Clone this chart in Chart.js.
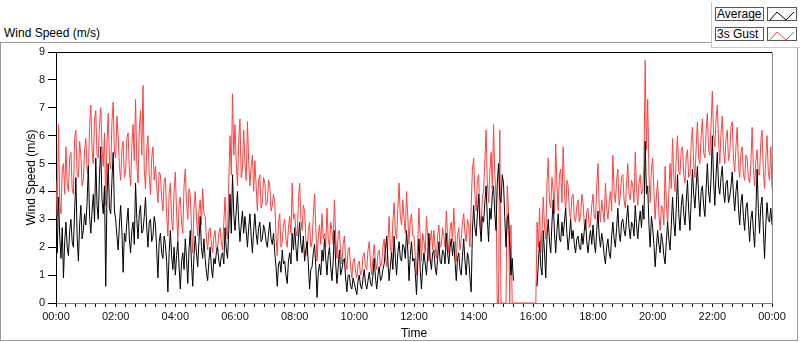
<!DOCTYPE html>
<html lang="en">
<head>
<meta charset="utf-8"/>
<title>Wind Speed (m/s)</title>
<script src="https://cdn.jsdelivr.net/npm/chart.js"></script>
<style>
  body { margin: 0; background: #fff; font-family: 'Liberation Sans', Arial, sans-serif; }
  #wrap { position: relative; width: 800px; height: 342px; overflow: hidden; }
  .frame { position: absolute; left: 0; top: 42px; width: 796px; height: 297px; border: 1px solid #9a9a9a; }
  .title { position: absolute; left: 4px; top: 26px; font-size: 12px; line-height: 14px; color: #000; }
  .legend { position: absolute; left: 711px; top: 2px; width: 88px; height: 45px; background: #fff;
            border-left: 1px solid #c8c8c8; border-bottom: 1px solid #c8c8c8; }
  .lg-name { position: absolute; left: 3px; width: 46px; height: 12px; border: 1px solid #555;
             font-size: 12px; line-height: 12px; padding-left: 1px; color: #000; white-space: nowrap; }
  .lg-icon { position: absolute; left: 55px; width: 28px; height: 12px; border: 1px solid #555; }
  canvas { position: absolute; left: 0; top: 0; }
</style>
</head>
<body>
<div id="wrap">
  <div class="frame"></div>
  <div class="title">Wind Speed (m/s)</div>
  <canvas id="wind-chart" width="800" height="342"></canvas>
  <div class="legend">
    <div class="lg-name" style="top:5px">Average</div>
    <div class="lg-icon" style="top:5px"><svg width="28" height="12"><polyline points="2,10 9,2 18,10 26,2" fill="none" stroke="#000" stroke-width="1"/></svg></div>
    <div class="lg-name" style="top:25px">3s Gust</div>
    <div class="lg-icon" style="top:25px"><svg width="28" height="12"><polyline points="2,10 9,2 18,10 26,2" fill="none" stroke="#ff4040" stroke-width="1"/></svg></div>
  </div>
</div>
<script>
  // samples every 2.5 minutes, one row per hour, 00:00 .. 24:00
  const stepMin = 2.5;
  const hourLabels = ['00:00','02:00','04:00','06:00','08:00','10:00','12:00',
                      '14:00','16:00','18:00','20:00','22:00','00:00'];

  const gust = [
    4.4, 3.1, 6.4, 3.6, 3.2, 4.8, 5.0, 3.9, 5.6, 4.3, 4.0, 5.2, 5.4, 4.1, 3.9, 5.9, 6.2, 4.6, 4.5, 5.8, 5.3, 4.2, 4.4, 5.5,
    5.9, 4.8, 4.6, 6.3, 7.1, 5.5, 5.0, 6.6, 6.9, 5.3, 5.2, 6.4, 7.0, 5.6, 4.9, 6.1, 3.5, 5.7, 6.8, 5.1, 4.8, 6.5, 7.2, 5.4,
    5.2, 6.7, 6.0, 4.9, 4.4, 5.5, 5.8, 4.5, 4.7, 5.9, 6.1, 4.8, 4.2, 5.6, 6.4, 5.1, 7.3, 5.0, 4.3, 6.2, 6.9, 5.3, 7.8, 4.8,
    4.1, 5.5, 6.0, 4.6, 3.9, 5.2, 5.6, 4.4, 4.9, 4.2, 3.6, 4.7, 4.6, 3.8, 3.3, 4.4, 4.5, 3.2, 2.4, 3.9, 4.3, 3.0, 2.6, 4.0,
    4.7, 3.3, 2.2, 3.5, 3.8, 2.9, 2.5, 4.2, 4.8, 3.6, 3.0, 4.1, 3.9, 2.7, 1.8, 3.4, 4.0, 3.1, 2.4, 3.3, 3.7, 2.8, 4.1, 3.2,
    3.1, 2.3, 1.9, 2.6, 2.7, 2.1, 1.8, 2.4, 2.6, 1.9, 2.0, 2.5, 2.7, 2.2, 1.9, 2.9, 3.8, 2.6, 2.3, 4.4, 6.0, 4.6, 7.5, 5.3,
    6.4, 5.0, 4.2, 5.8, 6.6, 4.5, 4.8, 6.2, 5.0, 4.4, 6.5, 5.1, 4.2, 4.9, 5.3, 4.0, 5.1, 4.2, 3.3, 4.4, 4.6, 3.4, 3.6, 4.5,
    4.3, 3.5, 3.6, 4.4, 4.2, 3.3, 3.5, 3.9, 3.6, 2.4, 1.7, 2.9, 3.2, 2.0, 2.2, 2.8, 3.0, 2.3, 2.0, 2.7, 3.1, 2.5, 4.3, 3.0,
    3.2, 2.6, 2.4, 3.6, 4.3, 3.0, 2.6, 3.5, 3.3, 2.3, 1.7, 2.6, 2.9, 2.0, 2.2, 3.1, 3.9, 2.7, 1.5, 2.4, 2.8, 2.1, 3.2, 2.3,
    2.5, 2.0, 3.4, 2.3, 2.0, 2.9, 2.6, 2.1, 3.7, 2.4, 1.6, 2.5, 2.6, 1.8, 1.4, 2.1, 2.4, 1.6, 1.2, 1.9, 2.0, 1.3, 0.9, 1.5,
    1.6, 1.1, 0.9, 1.4, 1.5, 1.0, 1.1, 1.7, 1.8, 1.3, 1.2, 1.9, 2.2, 1.4, 1.0, 1.6, 2.1, 1.5, 1.2, 1.8, 1.9, 1.3, 1.4, 2.0,
    2.3, 1.6, 1.3, 2.2, 3.1, 2.0, 1.7, 2.9, 3.6, 2.6, 2.3, 3.4, 4.3, 3.1, 2.8, 3.7, 3.0, 2.5, 4.0, 3.1, 2.1, 2.9, 3.2, 2.4,
    2.4, 1.7, 1.0, 2.2, 3.4, 2.3, 1.5, 2.5, 2.2, 1.8, 3.1, 2.4, 1.5, 2.2, 2.6, 1.9, 2.6, 2.0, 1.6, 2.4, 2.8, 2.0, 2.1, 2.7,
    2.4, 2.0, 3.3, 2.4, 1.8, 2.6, 2.9, 2.2, 3.4, 2.5, 1.5, 2.4, 2.7, 1.9, 2.3, 2.9, 3.2, 2.5, 2.2, 3.0, 2.8, 2.0, 3.5, 4.8,
    5.2, 3.9, 3.3, 4.4, 4.6, 3.2, 2.6, 3.8, 4.0, 5.1, 6.2, 4.3, 3.6, 4.7, 5.4, 4.1, 6.4, 4.6, 3.8, 0.0, 0.0, 6.2, 0.0, 0.0,
    0.0, 0.0, 0.0, 4.2, 3.4, 0.0, 2.8, 0.0, 0.0, 0.0, 0.0, 0.0, 0.0, 0.0, 0.0, 0.0, 0.0, 0.0, 0.0, 0.0, 0.0, 0.0, 0.0, 0.0,
    0.0, 0.0, 0.0, 2.9, 2.0, 3.4, 1.8, 2.6, 3.8, 2.7, 2.3, 4.3, 5.2, 3.6, 3.4, 4.5, 4.0, 3.2, 5.7, 4.2, 3.3, 4.6, 4.8, 3.6,
    5.6, 4.1, 3.2, 4.4, 4.2, 3.3, 3.0, 3.8, 3.9, 3.0, 2.9, 3.5, 3.7, 2.9, 3.1, 3.9, 3.6, 2.8, 2.6, 3.3, 3.4, 2.7, 2.8, 3.5,
    3.9, 3.1, 3.0, 4.2, 5.0, 3.4, 2.9, 3.7, 3.3, 2.9, 4.3, 3.4, 3.0, 3.6, 4.0, 3.3, 5.3, 4.0, 3.6, 4.4, 4.8, 3.5, 3.9, 4.5,
    4.6, 3.7, 3.4, 4.3, 5.0, 3.9, 3.7, 4.4, 4.2, 3.6, 5.4, 4.1, 3.5, 4.3, 4.6, 3.9, 4.0, 5.0, 8.7, 5.5, 7.3, 4.6, 3.6, 4.8,
    5.2, 4.0, 3.0, 3.8, 4.4, 3.2, 2.6, 3.5, 3.4, 2.8, 4.9, 3.6, 2.8, 3.9, 5.0, 4.1, 5.9, 4.5, 4.0, 5.3, 6.0, 4.7, 4.6, 5.5,
    5.6, 4.6, 4.3, 5.2, 5.5, 4.5, 4.6, 5.7, 6.3, 5.0, 4.5, 5.6, 6.5, 5.2, 5.0, 6.0, 6.6, 5.4, 5.2, 6.2, 6.8, 5.5, 5.3, 6.4,
    7.6, 6.0, 5.6, 6.6, 7.1, 5.8, 5.0, 6.1, 6.7, 5.5, 5.0, 5.9, 6.2, 5.1, 5.4, 6.3, 6.5, 5.2, 4.7, 5.6, 6.3, 5.0, 4.5, 5.4,
    5.6, 4.6, 4.4, 5.3, 5.2, 4.5, 4.3, 5.0, 6.3, 4.9, 4.2, 5.1, 5.5, 4.6, 4.6, 5.8, 6.2, 4.8, 4.1, 5.2, 6.0, 4.7, 4.4, 5.6,
    4.1
  ];

  const average = [
    2.9, 1.8, 3.8, 2.4, 1.6, 2.7, 0.9, 2.2, 2.9, 2.0, 1.7, 2.6, 3.0, 2.2, 2.0, 3.3, 4.5, 2.4, 1.5, 2.8, 3.5, 2.3, 2.6, 3.2,
    2.8, 3.6, 4.9, 3.1, 2.5, 3.3, 3.9, 2.9, 5.2, 3.5, 3.0, 4.6, 5.6, 3.7, 3.2, 4.2, 0.6, 3.8, 5.0, 3.4, 3.2, 4.4, 5.4, 3.3,
    3.0, 2.4, 1.9, 2.8, 3.5, 2.6, 1.1, 2.5, 2.2, 2.9, 3.4, 2.3, 1.8, 2.6, 2.9, 2.1, 4.3, 3.0, 2.3, 3.2, 3.5, 2.5, 2.6, 3.1,
    3.8, 2.7, 2.0, 2.9, 3.0, 2.2, 2.4, 3.1, 2.8, 1.9, 0.9, 2.2, 2.5, 1.8, 1.6, 2.4, 2.1, 1.5, 0.4, 1.8, 2.6, 1.7, 1.2, 2.0,
    1.0, 1.7, 2.2, 1.3, 0.5, 1.5, 1.8, 1.2, 2.3, 1.6, 0.7, 1.9, 2.6, 1.4, 0.6, 1.7, 2.4, 1.8, 1.3, 2.2, 3.1, 2.0, 1.6, 2.3,
    1.6, 1.1, 0.8, 1.5, 2.0, 1.3, 0.9, 1.6, 1.4, 1.8, 2.0, 1.5, 1.3, 1.7, 1.8, 1.4, 2.7, 1.9, 1.6, 2.6, 3.9, 2.5, 4.6, 3.2,
    2.6, 3.3, 4.0, 2.9, 2.2, 2.8, 3.3, 2.5, 3.1, 2.6, 2.0, 2.7, 3.2, 2.4, 1.8, 2.6, 3.2, 2.5, 2.1, 2.7, 2.9, 2.2, 2.3, 2.8,
    2.6, 2.2, 2.0, 2.5, 2.9, 2.3, 2.1, 2.5, 1.8, 1.3, 0.6, 1.4, 1.5, 1.1, 1.9, 1.4, 1.5, 1.0, 0.7, 1.5, 1.8, 1.4, 2.5, 1.9,
    2.7, 2.0, 1.5, 2.3, 2.9, 2.1, 1.8, 2.4, 1.5, 1.9, 2.2, 1.4, 0.5, 1.2, 1.3, 1.8, 2.1, 1.3, 0.2, 1.1, 1.4, 1.0, 1.9, 1.5,
    2.3, 1.6, 1.0, 1.7, 2.0, 1.3, 0.8, 1.5, 2.6, 1.4, 0.7, 1.3, 1.9, 1.0, 1.2, 1.5, 1.6, 0.9, 0.4, 1.0, 1.0, 0.6, 0.5, 0.9,
    0.7, 0.5, 0.3, 0.8, 1.0, 0.6, 0.5, 0.9, 1.2, 0.7, 0.5, 0.8, 1.1, 0.7, 0.6, 1.0, 1.6, 0.9, 0.5, 1.0, 1.3, 0.8, 0.9, 1.2,
    1.4, 1.9, 2.4, 1.5, 0.8, 1.3, 1.8, 1.2, 2.4, 1.6, 1.0, 1.8, 2.2, 1.6, 1.5, 2.1, 2.0, 1.6, 2.6, 1.9, 0.8, 1.7, 2.2, 1.5,
    1.6, 1.1, 0.3, 1.4, 2.3, 1.2, 0.5, 1.3, 1.8, 1.4, 1.0, 1.7, 2.5, 1.6, 1.2, 1.8, 1.9, 1.3, 1.0, 1.6, 2.2, 1.5, 1.4, 1.9,
    1.8, 1.4, 2.5, 1.8, 1.4, 2.0, 2.3, 1.7, 2.2, 1.5, 0.8, 1.6, 1.8, 1.2, 1.0, 1.7, 2.3, 1.5, 1.0, 1.8, 1.6, 0.9, 0.4, 2.6,
    3.5, 2.7, 2.4, 3.2, 3.9, 2.8, 2.2, 3.1, 2.9, 3.6, 4.2, 3.0, 2.2, 3.4, 3.0, 3.9, 4.2, 3.2, 2.6, 4.3, 5.0, 3.8, 3.6, 4.6,
    4.3, 3.1, 2.0, 3.0, 3.2, 2.1, 1.0, 1.6, 0.8, null, null, null, null, null, null, null, null, null, null, null, null, null, null, null,
    null, null, null, 0.6, 1.4, 2.2, 1.3, 1.0, 2.6, 1.8, 0.9, 2.4, 3.0, 2.2, 1.8, 2.9, 3.7, 2.5, 1.8, 2.6, 3.2, 2.3, 2.2, 2.9,
    2.4, 2.9, 3.4, 2.5, 1.9, 2.4, 3.0, 2.3, 2.6, 2.1, 1.8, 2.3, 2.4, 2.0, 1.9, 2.5, 2.1, 2.6, 3.0, 2.2, 1.8, 2.3, 2.6, 2.1,
    2.8, 2.2, 1.8, 2.6, 3.3, 2.4, 2.0, 2.5, 2.2, 1.7, 1.4, 2.0, 2.3, 1.8, 1.6, 2.4, 2.9, 2.3, 2.0, 2.7, 3.4, 2.5, 2.2, 2.9,
    3.0, 2.6, 2.4, 3.0, 3.5, 2.7, 2.3, 2.9, 2.8, 2.4, 3.5, 2.8, 2.3, 2.9, 3.3, 2.7, 3.5, 3.0, 5.8, 3.9, 4.2, 2.8, 2.0, 3.1,
    2.7, 2.1, 1.3, 2.0, 2.6, 2.1, 1.8, 2.5, 2.2, 1.7, 1.4, 2.2, 2.9, 2.3, 1.9, 2.8, 3.8, 2.9, 2.4, 3.4, 4.6, 3.2, 2.6, 3.5,
    3.9, 3.2, 2.8, 3.6, 4.4, 3.3, 2.6, 3.7, 4.8, 3.9, 3.4, 4.2, 4.9, 3.8, 3.1, 4.0, 4.2, 3.5, 3.1, 4.1, 5.0, 4.0, 3.6, 4.5,
    6.0, 4.4, 3.5, 4.6, 5.4, 4.2, 3.9, 4.5, 4.9, 4.0, 3.6, 4.3, 4.4, 3.6, 3.8, 4.2, 4.7, 3.9, 3.3, 4.0, 4.4, 3.4, 2.8, 3.6,
    3.9, 3.1, 2.6, 3.4, 3.6, 2.9, 2.2, 3.0, 3.3, 2.6, 2.0, 3.2, 4.8, 3.4, 2.5, 3.5, 3.8, 2.7, 1.6, 2.8, 3.6, 3.0, 2.9, 3.4,
    2.8
  ];

  const times = gust.map((_, i) => i * stepMin);
  const xTicks = [];
  for (let m = 0; m <= 1440; m += 20) xTicks.push(m);

  // top (black) and right (grey) edges of the plot area
  const plotFrame = {
    id: 'plotFrame',
    afterDraw(chart) {
      const { ctx, chartArea: a } = chart;
      ctx.save();
      ctx.lineWidth = 1;
      ctx.strokeStyle = '#000';
      ctx.beginPath(); ctx.moveTo(a.left, Math.floor(a.top) + 0.5); ctx.lineTo(a.right, Math.floor(a.top) + 0.5); ctx.stroke();
      ctx.strokeStyle = '#8a8a8a';
      ctx.beginPath(); ctx.moveTo(Math.floor(a.right) + 0.5, a.top); ctx.lineTo(Math.floor(a.right) + 0.5, a.bottom); ctx.stroke();
      ctx.restore();
    }
  };

  Chart.defaults.font.family = "'Liberation Sans', Arial, sans-serif";

  new Chart(document.getElementById('wind-chart'), {
    type: 'line',
    data: {
      datasets: [
        { label: 'Average', data: average.map((v, i) => ({ x: times[i], y: v })),
          borderColor: '#000', borderWidth: 1, pointRadius: 0, spanGaps: false },
        { label: '3s Gust', data: gust.map((v, i) => ({ x: times[i], y: v })),
          borderColor: '#ff4040', borderWidth: 1, pointRadius: 0 }
      ]
    },
    options: {
      responsive: false,
      animation: false,
      devicePixelRatio: 1,
      layout: { padding: { left: 0, right: 28, top: 52, bottom: 0 } },
      plugins: { legend: { display: false }, tooltip: { enabled: false } },
      scales: {
        x: {
          type: 'linear', min: 0, max: 1440,
          afterBuildTicks: s => { s.ticks = xTicks.map(v => ({ value: v })); },
          afterFit: s => { s.height = 39; },
          grid: { drawOnChartArea: false, tickLength: 4, tickColor: '#000' },
          border: { color: '#7a7a7a' },
          ticks: { autoSkip: false, maxRotation: 0, padding: 3, color: '#111', font: { size: 11 },
                   callback: v => (v % 120 === 0 ? hourLabels[v / 120] : '') },
          title: { display: true, text: 'Time', color: '#000', font: { size: 12 }, padding: { top: 0, bottom: 1 } }
        },
        y: {
          min: 0, max: 9,
          afterFit: s => { s.width = 56; },
          grid: { drawOnChartArea: false, tickLength: 8, tickColor: '#000' },
          border: { color: '#000' },
          ticks: { stepSize: 1, padding: 3, color: '#111', font: { size: 11 } },
          title: { display: true, text: 'Wind Speed (m/s)', color: '#000', font: { size: 12 }, padding: { top: 24, bottom: 0 } }
        }
      }
    },
    plugins: [plotFrame]
  });
</script>
</body>
</html>
